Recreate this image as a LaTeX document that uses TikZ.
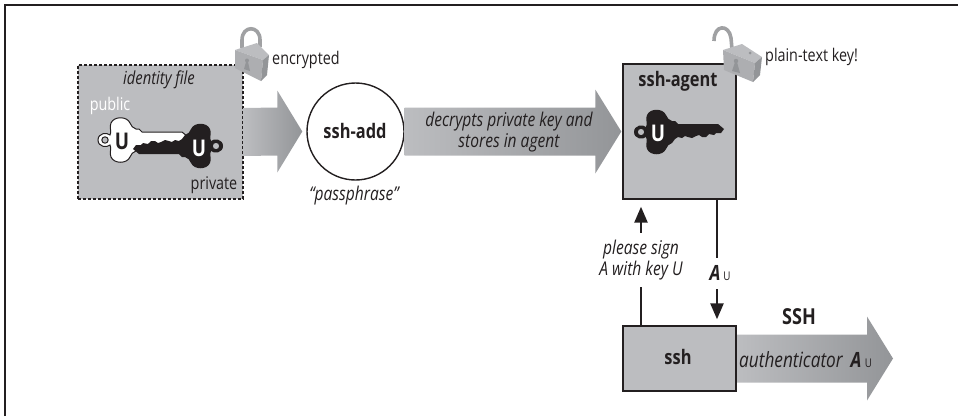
\documentclass[tikz,border=0pt]{standalone}
\usepackage{fontspec}
\setmainfont{Open Sans}[FakeStretch=0.82]
\usetikzlibrary{calc,arrows.meta}
\definecolor{boxgray}{HTML}{BCBDC0}
\definecolor{darkgray}{HTML}{939598}
\definecolor{ink}{HTML}{231F20}
\tikzset{
  x=1pt,y=-1pt,
  framebox/.style={draw=ink,line width=1.4pt,fill=boxgray,minimum width=113pt,inner sep=0pt},
  txt/.style={text=ink,inner sep=0pt,font=\fontsize{17.5}{20}\selectfont,align=center},
  itxt/.style={txt,font=\fontsize{19}{21}\selectfont\itshape},
  btxt/.style={txt,font=\fontsize{20}{20}\selectfont\bfseries},
  bigarrow/.style={left color=boxgray,right color=darkgray,draw=none},
  msgline/.style={draw=ink,line width=2.5pt},
  msghead/.style={msgline,-{Triangle[width=13pt,length=16pt]}},
  keyU/.style={inner sep=0pt,font=\fontsize{23}{23}\selectfont\bfseries},
  shackle/.style={draw=#1,line width=3.6pt,line cap=butt},
}
\newcommand{\KeyShape}{
  (-12,-5) .. controls (-10,-8) and (-13,-13) .. (-11,-17)
  .. controls (-8,-24) and (5,-24) .. (8,-17)
  .. controls (9,-14) and (11,-12) .. (14,-11)
  -- (17,-11) -- (20,-8) -- (60,-8) -- (66,-3) -- (63,1) -- (58,1) -- (56,3) -- (51,2)
  -- (48,5) -- (44,5) -- (41,3) -- (38,4) -- (34,6) -- (30,5) -- (27,4) -- (24,6) -- (20,5) -- (17,7) -- (14,11)
  .. controls (11,12) and (9,14) .. (8,17)
  .. controls (5,24) and (-8,24) .. (-11,17)
  .. controls (-13,13) and (-10,8) .. (-12,5)
  .. controls (-15,8) and (-24,7) .. (-24,0)
  .. controls (-24,-7) and (-15,-8) .. (-12,-5) -- cycle
  (-17,0) circle [radius=3.2]
}
\newcommand{\BigArrow}[5]{% start, tip, half shaft, head length, half head
  \shade[bigarrow] ($(#1)+(0,-#3)$) -- ($(#2)+(-#4,-#3)$) -- ($(#2)+(-#4,-#5)$) -- (#2)
    -- ($(#2)+(-#4,#5)$) -- ($(#2)+(-#4,#3)$) -- ($(#1)+(0,#3)$) -- cycle;
}
\newcommand{\AU}{{\fontsize{21}{21}\selectfont\bfseries\itshape A}\,{\fontsize{12}{12}\selectfont\upshape\mdseries U}}
\begin{document}
\begin{tikzpicture}
\useasboundingbox (0,0) rectangle (958,416);
\draw[ink,line width=1.4pt] (5,416) -- (5,5) -- (958,5);

% boxes
\node[draw=ink,dash pattern=on 2.6pt off 2.4pt,line width=1.2pt,fill=boxgray,minimum width=165pt,minimum height=134pt,inner sep=0pt] (idfile) at (160.5,132) {};
\node[draw=ink,line width=1.4pt,fill=white,circle,minimum size=97pt,inner sep=0pt] (add) at (355.5,131.5) {};
\node[framebox,minimum height=135pt] (agent) at (679.5,131.5) {};
\node[framebox,minimum height=65pt] (ssh) at (679.5,358.5) {};
\coordinate (sshtip) at (893,358.5);

% big arrows
\BigArrow{idfile.east}{$(add.west)+(-4,0)$}{24}{25}{41}
\BigArrow{add.east}{$(agent.west)+(-1,0)$}{24}{26}{42}
\BigArrow{ssh.east}{sshtip}{24}{26}{42}
\draw[draw=ink,line width=1.4pt] (ssh.north east) -- (ssh.south east);

% keys
\begin{scope}[shift={(122,140)}]
  \fill[white,draw=ink,line width=1pt,even odd rule] \KeyShape;
\end{scope}
\begin{scope}[shift={(199,146)},rotate=180]
  \fill[ink,even odd rule] \KeyShape;
\end{scope}
\begin{scope}[shift={(658,132)}]
  \fill[ink,even odd rule] \KeyShape;
\end{scope}
\node[keyU,text=ink] (ukeya) at (122,141) {U};
\node[keyU,text=white] (ukeyb) at (199,148) {U};
\node[keyU,text=white] (ukeyc) at (658,133) {U};

% closed lock
\draw[shackle=boxgray!85!black] (242,48) -- (242,40) .. controls (242,25) and (260,25) .. (260,40) -- (260,47);
\fill[boxgray] (235,50) -- (257,43) -- (269,55) -- (263,60) -- cycle;
\fill[boxgray!92!black] (235,50) -- (263,60) -- (261,81) -- (235,68) -- cycle;
\fill[darkgray] (263,60) -- (269,55) -- (267,75) -- (261,81) -- cycle;
\fill[darkgray] (247,60.5) circle [radius=2] ;
\fill[darkgray] (246,62) -- (248,62) -- (250,71) -- (244,69) -- cycle;

% open lock
\draw[shackle=boxgray!85!black] (732,49) -- (731,38) .. controls (729,24) and (714,24) .. (714,41);
\fill[boxgray] (723,50) -- (742,44) -- (762,57) -- (755,63) -- cycle;
\fill[boxgray!92!black] (723,50) -- (755,63) -- (753,82) -- (724,70) -- cycle;
\fill[darkgray] (755,63) -- (762,57) -- (760,75) -- (753,82) -- cycle;
\fill[darkgray] (750,53) circle [radius=1.5];
\fill[darkgray] (736,61) circle [radius=2.2];
\fill[darkgray] (735,62) -- (737,62) -- (740,73) -- (732,71) -- cycle;

% labels
\node[itxt,font=\fontsize{18}{21}\selectfont\itshape] (lid) at (159,80) {identity file};
\node[txt,text=white] (lpub) at (110,106) {public};
\node[txt] (lpriv) at (214,185) {private};
\node[txt,anchor=west] (lenc) at (272,60) {encrypted};
\node[btxt] (laddt) at (355,131) {ssh-add};
\node[itxt] (lpass) at (354,196) {“passphrase”};
\node[itxt] (ldec) at (509,132) {decrypts private key and\\stores in agent};
\node[btxt] (lagent) at (678,81) {ssh-agent};
\node[txt,anchor=west] (lplain) at (765,57) {plain-text key!};
\node[btxt] (lssh) at (678,357) {ssh};
\node[btxt,font=\fontsize{22}{22}\selectfont\bfseries] (lSSH) at (799,317) {SSH};
\node[itxt,anchor=west,font=\fontsize{21}{21}\selectfont\itshape] (lauth) at (739,360) {authenticator\, \AU};

% messages
\node[itxt,minimum height=54pt] (lsign) at (641,260) {please sign\\A with key U};
\node[txt,minimum height=31pt] (lau) at (720,273.5) {\AU};
\draw[msgline] (ssh.north -| lsign) -- (lsign.south);
\draw[msghead,shorten >=7pt] (lsign.north) -- (agent.south -| lsign);
\draw[msgline] (agent.south -| 717,0) -- (717,258) coordinate (audown);
\draw[msghead,shorten >=6pt] (717,289) coordinate (auup) -- (ssh.north -| 717,0);
\end{tikzpicture}
\end{document}
